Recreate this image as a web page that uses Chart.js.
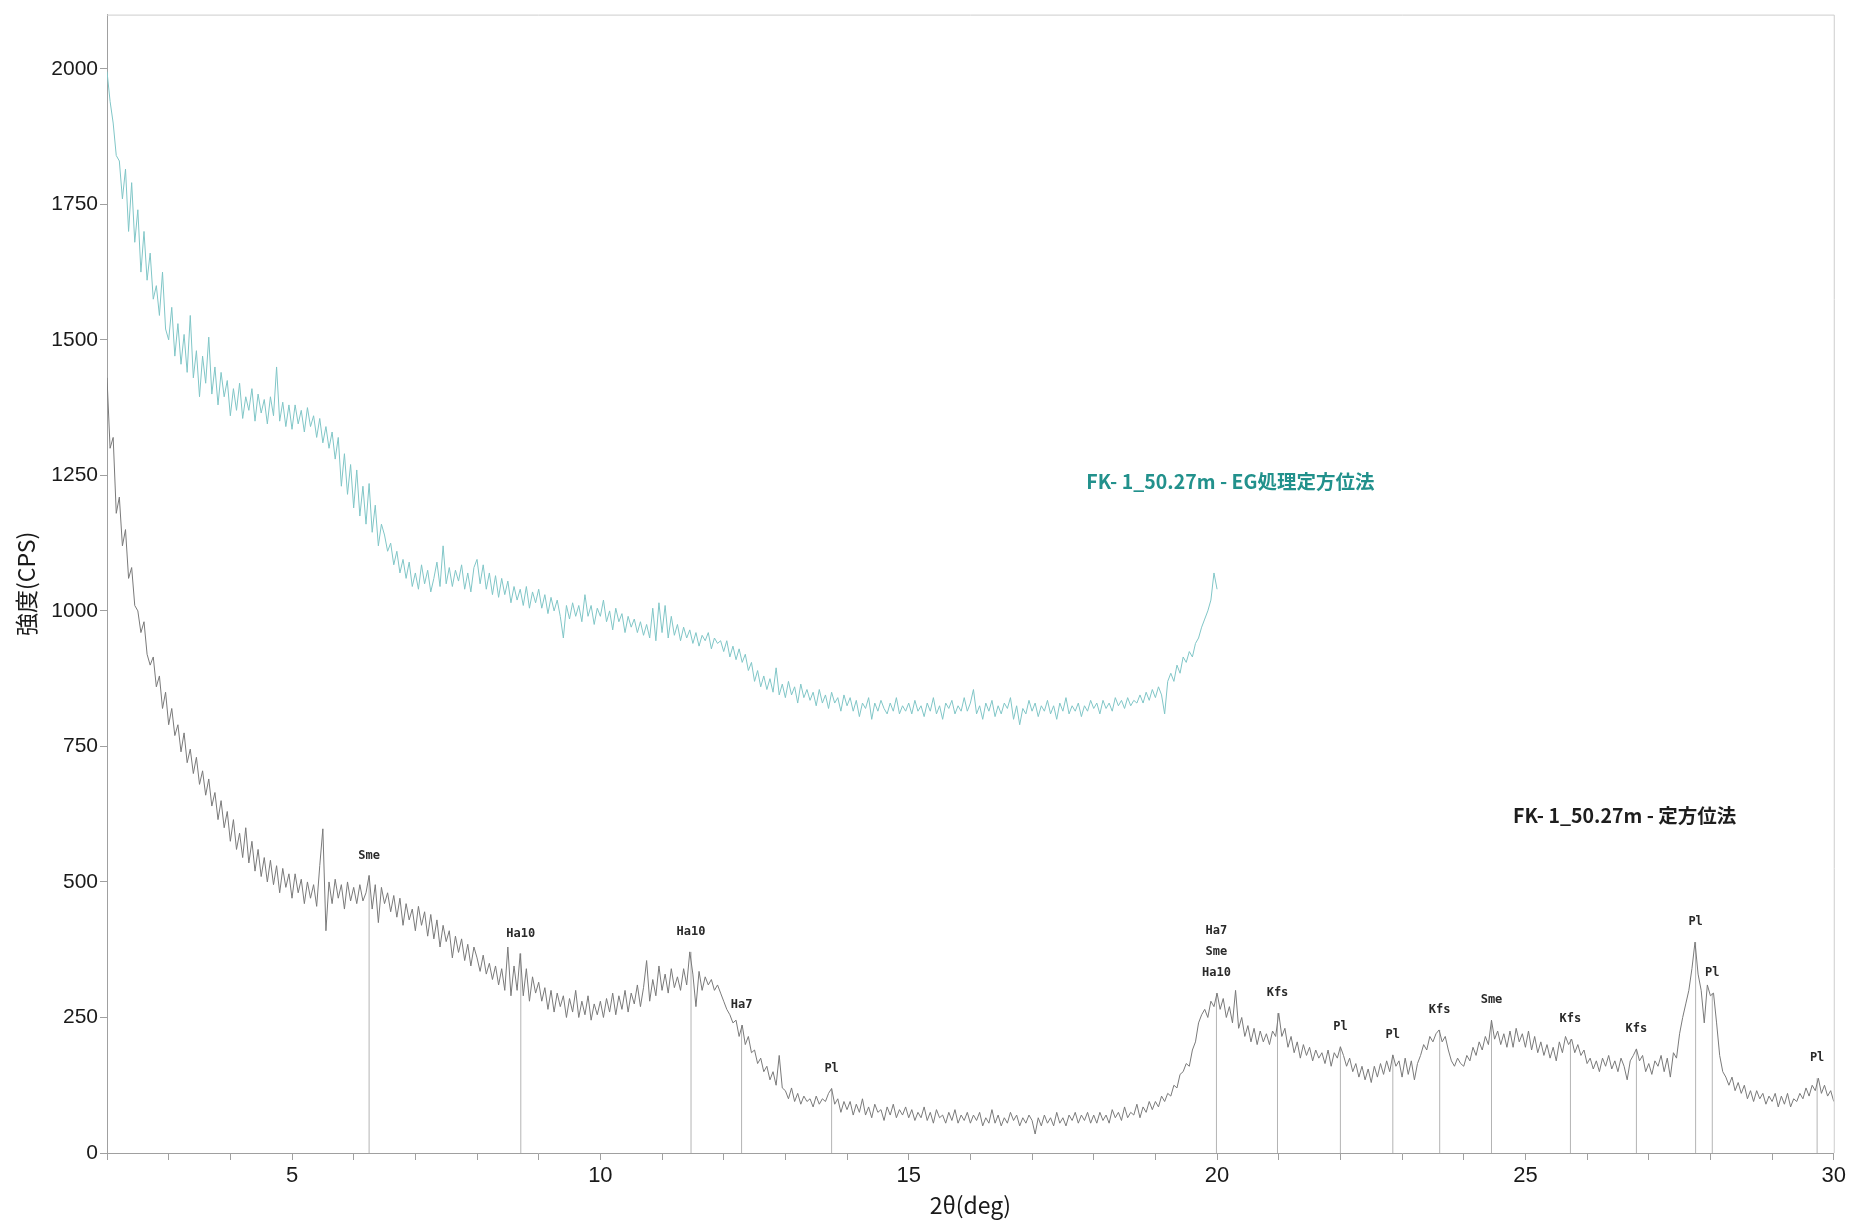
<!DOCTYPE html>
<html lang="ja">
<head>
<meta charset="utf-8">
<title>FK-1_50.27m XRD</title>
<script src="https://cdn.jsdelivr.net/npm/chart.js@4.4.1/dist/chart.umd.min.js"></script>
<style>
  body { margin: 0; background: #fff; }
  #wrap { width: 1849px; height: 1221px; }
</style>
</head>
<body>
<div id="wrap"><canvas id="xrd" width="1849" height="1221"></canvas></div>
<script>
// measurement grid (2θ, deg)
const angleStart = 2;
const angleStep = 0.05;

// EG処理定方位法 (teal), 2.00 - 20.00 deg, one row per degree
const egCounts = [
  1995,1940,1900,1840,1830,1760,1815,1700,1790,1680,1740,1625,1700,1610,1660,1575,1600,1545,1625,1520,
  1500,1560,1470,1530,1455,1510,1440,1545,1430,1480,1395,1470,1420,1505,1400,1450,1380,1440,1395,1425,
  1360,1410,1370,1420,1355,1395,1370,1410,1350,1400,1365,1390,1345,1395,1360,1450,1350,1385,1340,1380,
  1335,1380,1345,1370,1330,1375,1340,1360,1320,1355,1310,1340,1300,1330,1280,1320,1230,1290,1215,1270,
  1190,1260,1175,1230,1160,1235,1145,1195,1120,1160,1140,1110,1125,1085,1110,1070,1095,1060,1090,1045,
  1070,1040,1085,1050,1075,1035,1060,1090,1045,1120,1050,1080,1045,1075,1055,1085,1040,1070,1035,1080,
  1095,1050,1085,1040,1070,1030,1065,1025,1060,1030,1055,1015,1045,1020,1040,1010,1045,1005,1035,1015,
  1040,1005,1030,995,1025,1000,1020,990,950,1010,985,1015,990,1010,980,1030,990,1010,975,1005,
  990,1020,980,1000,965,1005,980,995,960,990,970,985,960,980,955,975,950,1005,945,1015,
  960,1010,950,990,955,975,945,970,950,965,940,960,935,955,945,960,930,950,940,945,
  925,945,915,935,910,930,905,920,890,905,870,890,860,880,855,875,850,895,845,865,
  840,870,845,860,830,865,840,855,835,850,825,855,830,845,820,850,830,840,815,845,
  825,840,815,835,805,830,820,840,800,830,815,835,820,810,830,815,840,810,825,815,
  830,810,835,815,825,805,830,815,840,810,825,800,830,820,835,810,825,815,840,815,
  830,855,810,825,800,830,815,835,805,825,810,830,820,840,800,825,790,820,810,835,
  815,830,805,825,815,835,810,825,800,830,815,840,810,825,815,830,805,825,815,835,
  820,830,810,835,820,830,815,840,825,835,820,840,825,835,830,845,830,850,835,855,
  840,860,845,810,870,885,870,900,885,915,905,925,915,940,950,970,985,1000,1020,1070,
  1040
];

// 定方位法 (grey), 2.00 - 30.00 deg
const orientCounts = [
  1430,1300,1320,1180,1210,1120,1150,1060,1080,1010,1000,960,980,920,900,915,860,880,820,850,
  790,820,770,790,740,775,720,745,700,730,680,705,660,690,640,665,615,650,600,630,
  575,615,560,590,545,600,535,575,520,560,510,545,500,540,495,530,480,525,490,515,
  470,515,480,505,460,500,470,495,455,530,598,410,500,460,505,470,495,450,500,465,
  490,460,495,465,480,512,450,495,425,490,460,480,445,475,435,470,420,460,430,450,
  410,455,420,445,400,440,395,430,380,420,390,410,360,400,370,395,355,385,345,380,
  360,335,365,330,350,320,345,310,340,300,380,290,345,300,368,290,340,280,325,295,
  315,280,305,265,300,260,295,270,290,250,285,260,300,250,280,255,290,245,275,255,
  280,250,285,260,295,255,290,265,300,260,295,275,310,270,305,355,280,320,290,345,
  300,330,295,340,305,325,300,340,310,371,330,270,335,300,325,310,320,300,310,295,
  280,265,255,240,245,215,236,200,215,185,190,165,175,150,160,135,150,125,180,120,
  115,100,120,95,110,90,105,95,100,85,105,90,100,95,110,119,90,100,75,95,
  80,95,70,90,75,100,70,85,65,90,75,80,60,85,70,90,65,80,70,85,
  65,80,60,75,65,85,60,75,55,80,65,70,55,75,60,80,55,70,60,75,
  55,70,60,75,50,65,55,80,55,70,50,65,55,75,60,70,50,65,55,70,
  60,35,65,50,70,55,65,50,75,55,65,50,70,60,75,55,70,60,75,55,
  70,55,75,60,70,55,80,65,75,60,85,65,75,70,90,65,85,75,95,80,
  95,85,105,95,110,105,125,120,145,150,165,160,190,205,240,255,265,250,280,270,
  295,265,285,250,270,240,300,230,250,215,235,205,230,200,225,205,220,200,225,215,
  258,215,230,195,215,185,205,175,200,180,195,170,190,175,185,165,190,160,185,175,
  196,180,160,175,150,165,140,160,135,155,130,160,140,165,145,170,150,181,160,170,
  140,175,145,170,135,165,180,200,190,215,205,220,227,205,215,190,170,160,175,165,
  160,180,170,195,180,205,190,215,200,245,210,225,200,220,195,225,195,230,205,220,
  195,225,190,215,185,205,180,200,175,195,170,205,185,215,200,210,185,200,180,190,
  165,175,155,170,150,175,160,180,155,170,150,175,160,135,170,180,192,170,180,150,
  165,145,170,160,180,150,175,140,185,175,220,250,275,300,340,389,330,300,240,310,
  290,295,240,180,150,140,125,140,115,130,110,125,100,115,95,115,100,110,90,105,
  95,110,85,105,90,110,85,100,95,110,100,120,105,125,115,138,110,125,105,115,
  95
];

// mineral peak markers on the 定方位法 trace
const peakAngles  = [6.25, 8.71, 11.47, 12.29, 13.75, 19.99, 20.98, 22.00, 22.85, 23.61, 24.45, 25.73, 26.80, 27.76, 28.03, 29.73];
const peakHeights = [512, 368, 371, 236, 119, 295, 258, 196, 181, 227, 245, 210, 192, 389, 295, 138];
const peakLabels  = ['Sme', 'Ha10', 'Ha10', 'Ha7', 'Pl', ['Ha7', 'Sme', 'Ha10'], 'Kfs', 'Pl', 'Pl', 'Kfs', 'Sme', 'Kfs', 'Kfs', 'Pl', 'Pl', 'Pl'];

const seriesNames = ['FK- 1_50.27m - EG処理定方位法', 'FK- 1_50.27m - 定方位法'];
const tealLine = '#80c6c7';
const tealText = '#22918c';
const greyLine = '#7a7a7a';

const toPoints = counts => counts.map((v, i) => ({ x: +(angleStart + i * angleStep).toFixed(2), y: v }));

// vertical marker segments, broken by null gaps
const markerPoints = [];
peakAngles.forEach((a, i) => {
  markerPoints.push({ x: a, y: 0 }, { x: a, y: peakHeights[i] }, { x: a, y: null });
});

// plot frame, peak names and series names
const overlay = {
  id: 'overlay',
  afterDatasetsDraw(chart) {
    const { ctx, chartArea: area, scales: { x, y } } = chart;
    ctx.save();

    ctx.strokeStyle = '#cdcdcd';
    ctx.lineWidth = 1;
    ctx.beginPath();
    ctx.moveTo(area.left, area.top + 0.5);
    ctx.lineTo(area.right + 0.5, area.top + 0.5);
    ctx.lineTo(area.right + 0.5, area.bottom);
    ctx.stroke();

    ctx.font = 'bold 12px "DejaVu Sans Mono"';
    ctx.fillStyle = '#2a2a2a';
    ctx.textAlign = 'center';
    ctx.textBaseline = 'middle';
    peakAngles.forEach((a, i) => {
      const px = x.getPixelForValue(a);
      const top = y.getPixelForValue(peakHeights[i]);
      const names = [].concat(peakLabels[i]);
      names.forEach((n, k) => ctx.fillText(n, px, top - 20 - (names.length - 1 - k) * 21));
    });

    ctx.font = 'bold 19.5px "Noto Sans CJK JP"';
    ctx.textAlign = 'left';
    ctx.fillStyle = tealText;
    ctx.fillText(seriesNames[0], x.getPixelForValue(17.88), y.getPixelForValue(1239));
    ctx.fillStyle = '#1e1e1e';
    ctx.fillText(seriesNames[1], x.getPixelForValue(24.8), y.getPixelForValue(623));

    ctx.restore();
  }
};

new Chart(document.getElementById('xrd'), {
  type: 'line',
  data: {
    datasets: [
      { label: seriesNames[0], data: toPoints(egCounts), borderColor: tealLine, borderWidth: 1, pointRadius: 0, tension: 0 },
      { label: seriesNames[1], data: toPoints(orientCounts), borderColor: greyLine, borderWidth: 1, pointRadius: 0, tension: 0 },
      { label: 'peaks', data: markerPoints, borderColor: '#b4b4b4', borderWidth: 1, pointRadius: 0, spanGaps: false }
    ]
  },
  options: {
    responsive: false,
    devicePixelRatio: 1,
    animation: false,
    layout: { padding: { top: 12, right: 15, left: 0, bottom: 0 } },
    plugins: { legend: { display: false }, tooltip: { enabled: false } },
    scales: {
      x: {
        type: 'linear',
        min: 2,
        max: 30,
        afterFit: s => { s.height = 68; },
        ticks: {
          stepSize: 1,
          autoSkip: false,
          maxRotation: 0,
          padding: 3,
          color: '#1a1a1a',
          font: { family: '"Liberation Sans", Arial, sans-serif', size: 22 },
          callback: v => (v % 5 === 0 ? String(v) : '')
        },
        grid: { drawOnChartArea: false, tickLength: 7, color: '#a0a0a0' },
        border: { color: '#a0a0a0' },
        title: {
          display: true,
          text: '2θ(deg)',
          color: '#1a1a1a',
          font: { family: '"Noto Sans CJK JP"', size: 23 },
          padding: { top: 0, bottom: 2 }
        }
      },
      y: {
        min: 0,
        max: 2100,
        afterFit: s => { s.width = 107; },
        ticks: {
          stepSize: 250,
          padding: 2,
          color: '#1a1a1a',
          font: { family: '"Liberation Sans", Arial, sans-serif', size: 21 },
          callback: v => (v % 250 === 0 ? String(v) : null)
        },
        grid: { drawOnChartArea: false, tickLength: 7, color: '#a0a0a0' },
        border: { color: '#a0a0a0' },
        title: {
          display: true,
          text: '強度(CPS)',
          color: '#1a1a1a',
          font: { family: '"Noto Sans CJK JP"', size: 23 },
          padding: { top: 12, bottom: 0 }
        }
      }
    }
  },
  plugins: [overlay]
});
</script>
</body>
</html>
